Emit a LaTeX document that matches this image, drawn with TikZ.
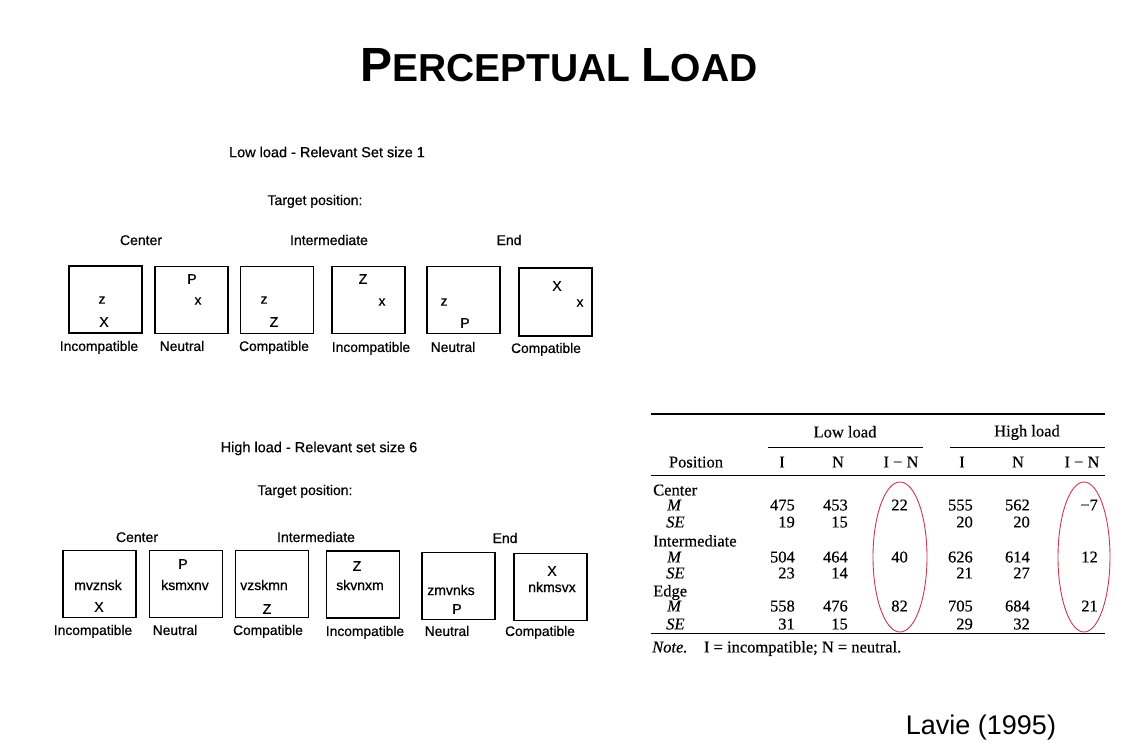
\documentclass[tikz,border=0pt]{standalone}
\usepackage{fontspec}
\setmainfont{Liberation Serif}
\setsansfont{Liberation Sans}
\newfontfamily\scanfont[FakeBold=0.6]{Liberation Sans}
\newfontfamily\tabfont[FakeBold=0.4]{Liberation Serif}
\definecolor{ellred}{RGB}{205,55,75}
\tikzset{
  sf/.style={font=\scanfont\fontsize{14}{14}\selectfont, inner sep=0pt, text height=10pt, text depth=0pt},
  ttl/.style={font=\scanfont\fontsize{14.5}{14.5}\selectfont, inner sep=0pt, text height=10.4pt, text depth=0pt},
  lab/.style={font=\scanfont\fontsize{13.8}{13.8}\selectfont, inner sep=0pt, text height=9.9pt, text depth=0pt},
  stim/.style={draw, line width=1.3pt, minimum width=73pt, minimum height=67pt, inner sep=0pt},
  ch/.style={font=\scanfont\fontsize{14}{14}\selectfont, inner sep=0pt},
  tb/.style={font=\tabfont\fontsize{16.5}{16.5}\selectfont, inner sep=0pt, text height=10.9pt, text depth=0pt},
  rule/.style={line width=0.9pt},
  ring/.style={draw=ellred, line width=0.9pt}
}
\begin{document}
\begin{tikzpicture}[x=1pt,y=-1pt]
\useasboundingbox (0,0) rectangle (1125,742);
% title
\node[font=\sffamily\bfseries, inner sep=0pt] (title) at (559,65)
  {\fontsize{48}{48}\selectfont P\fontsize{39}{39}\selectfont ERCEPTUAL \fontsize{48}{48}\selectfont L\fontsize{39}{39}\selectfont OAD};
% ---------- low load ----------
\node[ttl] (lowtitle) at (327,152) {Low load - Relevant Set size 1};
\node[sf] (lowtp) at (315,200) {Target position:};
\node[sf] (lowc) at (141,240) {Center};
\node[sf] (lowi) at (329,240) {Intermediate};
\node[sf] (lowe) at (509,240) {End};
\node[stim] (l1) at (105.5,299.5) {};
\node[stim] (l2) at (191.5,300) {};
\node[stim] (l3) at (277,300) {};
\node[stim] (l4) at (368.5,300) {};
\node[stim] (l5) at (463.5,300) {};
\node[stim, minimum height=68pt] (l6) at (555.5,302) {};
\node[ch] (l1a) at (102,300) {z};
\node[ch] (l1b) at (104,322) {X};
\node[ch] (l2a) at (192,279) {P};
\node[ch] (l2b) at (198,301) {x};
\node[ch] (l3a) at (264,300) {z};
\node[ch] (l3b) at (274,322) {Z};
\node[ch] (l4a) at (363,279) {Z};
\node[ch] (l4b) at (382,302) {x};
\node[ch] (l5a) at (444,302) {z};
\node[ch] (l5b) at (465,323) {P};
\node[ch] (l6a) at (557,286) {X};
\node[ch] (l6b) at (580,303) {x};
\node[lab] (l1l) at (99,346) {Incompatible};
\node[lab] (l2l) at (182,346) {Neutral};
\node[lab] (l3l) at (274,346) {Compatible};
\node[lab] (l4l) at (371,347) {Incompatible};
\node[lab] (l5l) at (453,347) {Neutral};
\node[lab] (l6l) at (546,348) {Compatible};
% ---------- high load ----------
\node[ttl] (hightitle) at (319,447) {High load - Relevant set size 6};
\node[sf] (hightp) at (305,490) {Target position:};
\node[sf] (highc) at (137,537) {Center};
\node[sf] (highi) at (316,537) {Intermediate};
\node[sf] (highe) at (505,538) {End};
\node[stim] (h1) at (99.5,584) {};
\node[stim] (h2) at (186,584) {};
\node[stim] (h3) at (272,584) {};
\node[stim] (h4) at (363,584.5) {};
\node[stim] (h5) at (458.5,586) {};
\node[stim] (h6) at (550.5,587) {};
\node[ch] (h1a) at (98,585) {mvznsk};
\node[ch] (h1b) at (99,607) {X};
\node[ch] (h2a) at (183,564) {P};
\node[ch] (h2b) at (185,585) {ksmxnv};
\node[ch] (h3a) at (264,585) {vzskmn};
\node[ch] (h3b) at (267,609) {Z};
\node[ch] (h4a) at (357,566) {Z};
\node[ch] (h4b) at (360,585) {skvnxm};
\node[ch] (h5a) at (451,590) {zmvnks};
\node[ch] (h5b) at (457,609) {P};
\node[ch] (h6a) at (552,571) {X};
\node[ch] (h6b) at (552,587) {nkmsvx};
\node[lab] (h1l) at (93,630) {Incompatible};
\node[lab] (h2l) at (175,630) {Neutral};
\node[lab] (h3l) at (268,630) {Compatible};
\node[lab] (h4l) at (365,631) {Incompatible};
\node[lab] (h5l) at (447,631) {Neutral};
\node[lab] (h6l) at (540,631) {Compatible};
% ---------- table ----------
\coordinate (tl) at (651,414);
\coordinate (tr) at (1105,414);
\draw[line width=1.8pt] (tl) -- (tr);
\coordinate (g1a) at (768,447);
\coordinate (g1b) at (923,447);
\coordinate (g2a) at (950,447);
\coordinate (g2b) at (1105,447);
\draw[rule] (g1a) -- (g1b);
\draw[rule] (g2a) -- (g2b);
\coordinate (hl) at (651,475);
\coordinate (hr) at (1105,475);
\draw[rule] (hl) -- (hr);
\coordinate (bl) at (651,633);
\coordinate (br) at (1105,633);
\draw[rule] (bl) -- (br);
\node[tb] (lowload) at (845,432) {Low load};
\node[tb] (highload) at (1027,431) {High load};
\node[tb] (pos) at (696,462) {Position};
\node[tb] (hI1) at (782,462) {I};
\node[tb] (hN1) at (838,462) {N};
\node[tb] (hD1) at (901,462) {I − N};
\node[tb] (hI2) at (962,462) {I};
\node[tb] (hN2) at (1018,462) {N};
\node[tb] (hD2) at (1082,462) {I − N};
% row labels
\node[tb, anchor=west] (rc) at (653,490) {Center};
\node[tb, anchor=west] (rcm) at (667,505) {\itshape M};
\node[tb, anchor=west] (rcs) at (666,522) {\itshape SE};
\node[tb, anchor=west] (ri) at (653,541) {Intermediate};
\node[tb, anchor=west] (rim) at (667,557) {\itshape M};
\node[tb, anchor=west] (ris) at (666,573) {\itshape SE};
\node[tb, anchor=west] (re) at (653,591) {Edge};
\node[tb, anchor=west] (rem) at (667,606) {\itshape M};
\node[tb, anchor=west] (res) at (666,624) {\itshape SE};
% values
\foreach \y/\a/\b/\c/\d/\e/\f/\n in {
  505/475/453/22/555/562/{−7}/cm,
  522/19/15/{}/20/20/{}/cs,
  557/504/464/40/626/614/12/im,
  573/23/14/{}/21/27/{}/is,
  606/558/476/82/705/684/21/em,
  624/31/15/{}/29/32/{}/es}{
  \node[tb, anchor=east] (v\n1) at (795,\y) {\a};
  \node[tb, anchor=east] (v\n2) at (848,\y) {\b};
  \node[tb, anchor=east] (v\n3) at (908,\y) {\c};
  \node[tb, anchor=east] (v\n4) at (973,\y) {\d};
  \node[tb, anchor=east] (v\n5) at (1030,\y) {\e};
  \node[tb, anchor=east] (v\n6) at (1098,\y) {\f};
}
\node[tb, anchor=west] (note) at (652,647) {\itshape Note.\upshape\quad I = incompatible; N = neutral.};
% red ellipses
\draw[ring] (900,557) ellipse [x radius=27, y radius=75];
\draw[ring] (1084,557) ellipse [x radius=26, y radius=75];
% credit
\node[font=\sffamily\fontsize{27}{27}\selectfont, inner sep=0pt] (credit) at (981,728) {Lavie (1995)};
\end{tikzpicture}
\end{document}
